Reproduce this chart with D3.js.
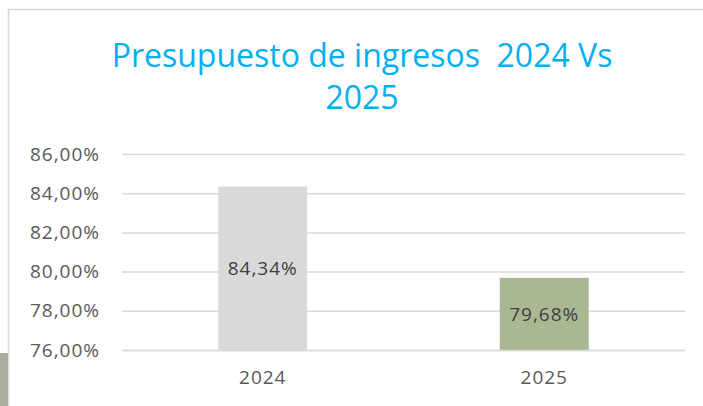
<!DOCTYPE html>
<html>
<head>
<meta charset="utf-8">
<script src="https://cdn.jsdelivr.net/npm/d3@7"></script>
<style>
    body { margin: 0; background: #fff; }
    svg { display: block; font-family: "Open Sans", sans-serif; }
</style>
</head>
<body>
<div id="chart"></div>
<script>
    const categories = ["2024", "2025"];
    const values = [84.34, 79.68];
    const barColors = ["#d9d9d9", "#a9b793"];
    const yTicks = [76, 78, 80, 82, 84, 86];
    const titleLines = ["Presupuesto de ingresos  2024 Vs", "2025"];

    const width = 703;
    const height = 406;
    const margin = {top: 154, right: 18, bottom: 56, left: 122};
    const fontSize = 19;
    const spacing = 1;

    const svg = d3.select("#chart").append("svg")
        .attr("width", width)
        .attr("height", height);

    // chart frame, cut off at right and bottom
    svg.append("rect")
        .attr("x", 8.5)
        .attr("y", 9.5)
        .attr("width", 720)
        .attr("height", 420)
        .attr("fill", "#fff")
        .attr("stroke", "#d9d9d9")
        .attr("stroke-width", 1.5);

    // leftover shape at bottom left
    svg.append("rect")
        .attr("x", 0)
        .attr("y", 353)
        .attr("width", 8)
        .attr("height", 53)
        .attr("fill", "#a9ae9f");

    svg.append("text")
        .attr("text-anchor", "middle")
        .attr("fill", "#00b0f0")
        .style("font-size", "32px")
        .style("white-space", "pre")
        .selectAll("tspan")
        .data(titleLines)
        .join("tspan")
        .attr("x", 362)
        .attr("y", (d, i) => 67 + i * 42)
        .text(d => d);

    const mainWidth = width - margin.left - margin.right;
    const mainHeight = height - margin.top - margin.bottom;

    const main = svg.append("g")
        .attr("transform", `translate(${margin.left} ${margin.top})`);

    const x = d3.scaleBand()
        .domain(categories)
        .range([0, mainWidth])
        .paddingInner(0.684)
        .paddingOuter(0.342);

    const y = d3.scaleLinear()
        .domain([76, 86])
        .range([mainHeight, 0]);

    const fmt = v => d3.format(".2f")(v).replace(".", ",") + "%";

    const yAxis = main.append("g")
        .call(d3.axisLeft(y).tickValues(yTicks).tickSize(-mainWidth).tickFormat(fmt).tickPadding(22));
    yAxis.select(".domain").remove();
    yAxis.selectAll(".tick line").attr("stroke", "#d9d9d9").attr("stroke-width", 1.5);
    yAxis.selectAll(".tick text")
        .attr("fill", "#595959")
        .style("font-size", fontSize + "px")
        .style("letter-spacing", spacing + "px")
        .style("font-family", "'Open Sans', sans-serif");

    main.selectAll(".bar")
        .data(values)
        .join("rect")
        .attr("class", "bar")
        .attr("x", (d, i) => x(categories[i]))
        .attr("y", d => y(d))
        .attr("width", x.bandwidth())
        .attr("height", d => mainHeight - y(d))
        .attr("fill", (d, i) => barColors[i]);

    main.selectAll(".label")
        .data(values)
        .join("text")
        .attr("class", "label")
        .attr("x", (d, i) => x(categories[i]) + x.bandwidth() / 2)
        .attr("y", d => (y(d) + mainHeight) / 2)
        .attr("text-anchor", "middle")
        .attr("dominant-baseline", "central")
        .attr("fill", "#404040")
        .style("font-size", fontSize + "px")
        .style("letter-spacing", spacing + "px")
        .text(d => fmt(d));

    const xAxis = main.append("g")
        .attr("transform", `translate(0 ${mainHeight})`)
        .call(d3.axisBottom(x).tickSize(0).tickPadding(21));
    xAxis.select(".domain").attr("stroke", "#d9d9d9").attr("stroke-width", 1.5);
    xAxis.selectAll(".tick text")
        .attr("fill", "#595959")
        .style("font-size", fontSize + "px")
        .style("letter-spacing", spacing + "px")
        .style("font-family", "'Open Sans', sans-serif");
</script>
</body>
</html>
